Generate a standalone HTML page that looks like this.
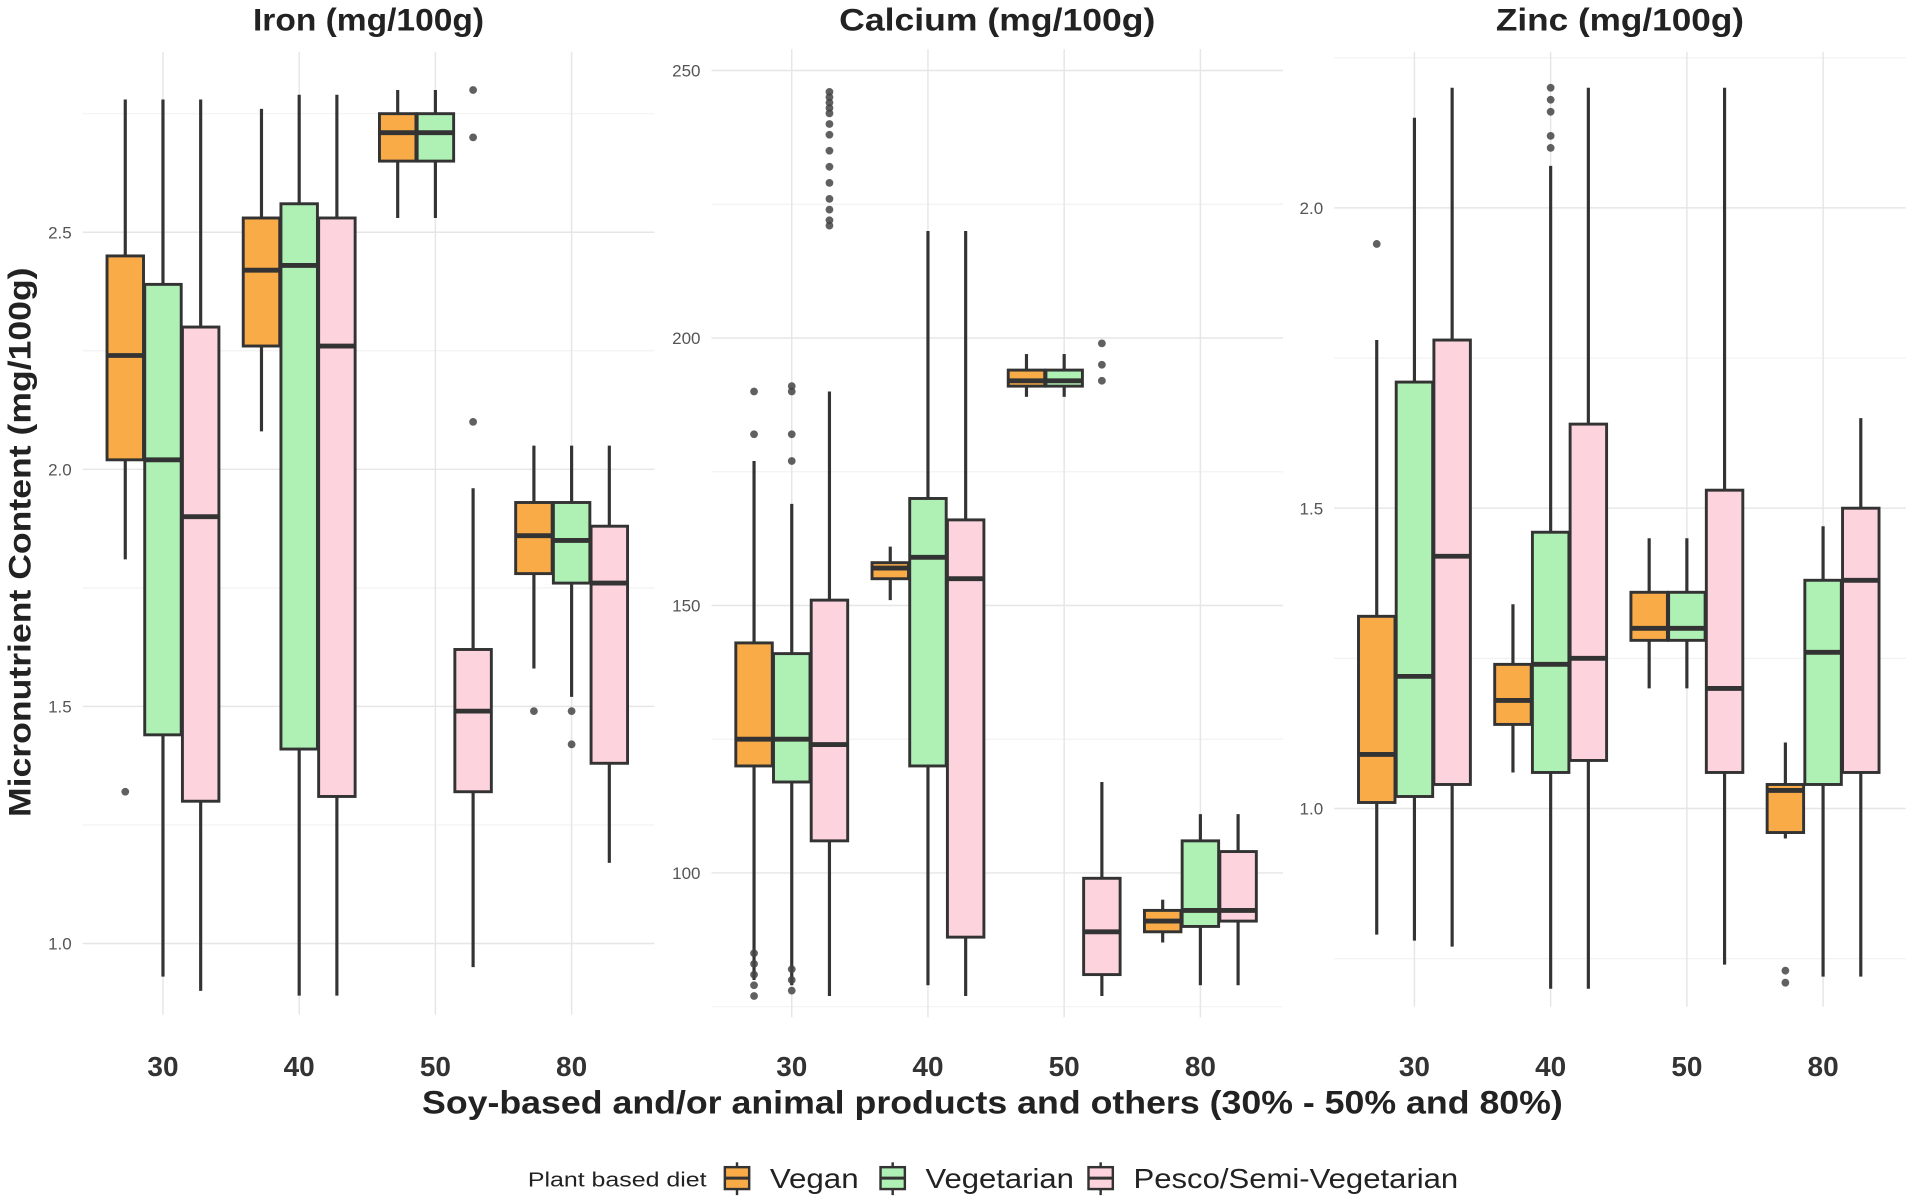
<!DOCTYPE html>
<html><head><meta charset="utf-8"><style>
body{margin:0;background:#fff}
svg{display:block;font-family:"Liberation Sans",sans-serif}
</style></head><body>
<svg id="c" width="1907" height="1200" viewBox="0 0 1568 987" preserveAspectRatio="none"></svg>
<script>
const categories=["30","40","50","80"];
const diets=["Vegan","Vegetarian","Pesco/Semi-Vegetarian"];
const dietColors=["#f9ab48","#aff0b5","#fdd3dd"];
// each: [lowWhisker,q1,median,q3,highWhisker]
const ironStats=[
 [[1.81,2.02,2.24,2.45,2.78],[0.93,1.44,2.02,2.39,2.78],[0.90,1.30,1.90,2.30,2.78]],
 [[2.08,2.26,2.42,2.53,2.76],[0.89,1.41,2.43,2.56,2.79],[0.89,1.31,2.26,2.53,2.79]],
 [[2.53,2.65,2.71,2.75,2.80],[2.53,2.65,2.71,2.75,2.80],[0.95,1.32,1.49,1.62,1.96]],
 [[1.58,1.78,1.86,1.93,2.05],[1.52,1.76,1.85,1.93,2.05],[1.17,1.38,1.76,1.88,2.05]]];
const ironOutliers=[[[1.32],[],[]],[[],[],[]],[[],[],[2.10,2.70,2.80]],[[1.49],[1.49,1.42],[]]];
const calciumStats=[
 [[80,120,125,143,177],[79,117,125,141,169],[77,106,124,151,190]],
 [[151,155,157,158,161],[79,120,159,170,220],[77,88,155,166,220]],
 [[189,191,192,194,197],[189,191,192,194,197],[77,81,89,99,117]],
 [[87,89,91,93,95],[79,90,93,106,111],[79,91,93,104,111]]];
const calciumOutliers=[
 [[190,182,85,83,81,79,77],[191,190,182,177,82,80,78],[246,245,244,243,242,240,238,235,232,229,226,224,222,221]],
 [[],[],[]],[[],[],[199,195,192]],[[],[],[]]];
const zincStats=[
 [[0.79,1.01,1.09,1.32,1.78],[0.78,1.02,1.22,1.71,2.15],[0.77,1.04,1.42,1.78,2.20]],
 [[1.06,1.14,1.18,1.24,1.34],[0.70,1.06,1.24,1.46,2.07],[0.70,1.08,1.25,1.64,2.20]],
 [[1.20,1.28,1.30,1.36,1.45],[1.20,1.28,1.30,1.36,1.45],[0.74,1.06,1.20,1.53,2.20]],
 [[0.95,0.96,1.03,1.04,1.11],[0.72,1.04,1.26,1.38,1.47],[0.72,1.06,1.38,1.50,1.65]]];
const zincOutliers=[[[1.94],[],[]],[[],[2.20,2.18,2.16,2.12,2.10],[]],[[],[],[]],[[0.73,0.71],[],[]]];
const ironTicks=[1.0,1.5,2.0,2.5];
const calciumTicks=[100,150,200,250];
const zincTicks=[1.0,1.5,2.0];

const NS="http://www.w3.org/2000/svg";
const svg=document.getElementById('c');
function mk(tag,attrs,parent){const e=document.createElementNS(NS,tag);for(const k in attrs)e.setAttribute(k,attrs[k]);(parent||svg).appendChild(e);return e;}

const panels=[
 {name:"iron",title:"Iron (mg/100g)",tw:190,x0:68,x1:538,cx:[134,246,358,470],v0:1.0,p0:776,scale:390,ymin:0.85,ymax:2.88,ticks:ironTicks,fmt:v=>v.toFixed(1),stats:ironStats,out:ironOutliers},
 {name:"calcium",title:"Calcium (mg/100g)",tw:260,x0:585,x1:1055,cx:[651,763,875,987],v0:100,p0:718,scale:4.4,ymin:73,ymax:254,ticks:calciumTicks,fmt:v=>String(v),stats:calciumStats,out:calciumOutliers},
 {name:"zinc",title:"Zinc (mg/100g)",tw:204,x0:1097,x1:1567,cx:[1163,1275,1387,1499],v0:1.0,p0:665,scale:494,ymin:0.67,ymax:2.26,ticks:zincTicks,fmt:v=>v.toFixed(1),stats:zincStats,out:zincOutliers}];

panels.forEach(p=>{
 const g=mk('g',{});
 
 
 const y=v=>p.p0-(v-p.v0)*p.scale;
 const top=y(p.ymax),bot=y(p.ymin);
 const step=p.ticks[1]-p.ticks[0];
 for(let i=-1;i<p.ticks.length;i++){
  const mv=p.ticks[0]+step*(i+0.5);
  if(mv>p.ymin&&mv<p.ymax){mk('line',{x1:p.x0,x2:p.x1,y1:y(mv),y2:y(mv),stroke:"#f2f2f2","stroke-width":1},g);}
 }
 p.ticks.forEach(t=>{
  const l=mk('line',{x1:p.x0,x2:p.x1,y1:y(t),y2:y(t),stroke:"#e6e6e6","stroke-width":1.2},g);
  
  
  const tx=mk('text',{x:p.x0-9,y:y(t)+5,"text-anchor":"end","font-size":14,fill:"#555"},g);
  tx.textContent=p.fmt(t);
  
  
 });
 p.cx.forEach((c,ci)=>{
  mk('line',{x1:c,x2:c,y1:top,y2:bot,stroke:"#e6e6e6","stroke-width":1.2},g);
  const tx=mk('text',{x:c,y:885,"text-anchor":"middle","font-size":23,"font-weight":"bold",fill:"#333"},g);
  tx.textContent=categories[ci];
  
  
 });
 const tt=mk('text',{x:(p.x0+p.x1)/2,y:25,"text-anchor":"middle","font-size":26,"font-weight":"bold",fill:"#222",textLength:p.tw,lengthAdjust:"spacingAndGlyphs"},g);
 tt.textContent=p.title;
 
 
 const bw=30,off=31;
 p.stats.forEach((grp,ci)=>{
  grp.forEach((s,di)=>{
   const cx=p.cx[ci]+(di-1)*off;
   const bg=mk('g',{},g);
   
   
   mk('line',{x1:cx,x2:cx,y1:y(s[0]),y2:y(s[4]),stroke:"#333","stroke-width":2.6},bg);
   mk('rect',{x:cx-bw/2,y:y(s[3]),width:bw,height:y(s[1])-y(s[3]),fill:dietColors[di],stroke:"#333","stroke-width":2.4},bg);
   mk('line',{x1:cx-bw/2,x2:cx+bw/2,y1:y(s[2]),y2:y(s[2]),stroke:"#333","stroke-width":4},bg);
   p.out[ci][di].forEach(o=>{
    const d=mk('circle',{cx:cx,cy:y(o),r:3.2,fill:"#444","fill-opacity":0.85},bg);
    
    
   });
  });
 });
});

const yt=mk('text',{x:0,y:0,transform:"translate(25,446) rotate(-90)","text-anchor":"middle","font-size":26,"font-weight":"bold",fill:"#222",textLength:452,lengthAdjust:"spacingAndGlyphs"});
yt.textContent="Micronutrient Content (mg/100g)";


const xt=mk('text',{x:816,y:916,"text-anchor":"middle","font-size":27,"font-weight":"bold",fill:"#222",textLength:938,lengthAdjust:"spacingAndGlyphs"});
xt.textContent="Soy-based and/or animal products and others (30% - 50% and 80%)";



const lg=mk('g',{});


const lt=mk('text',{x:434,y:976,"font-size":17,fill:"#222",textLength:147,lengthAdjust:"spacingAndGlyphs"},lg);
lt.textContent="Plant based diet";
const lx=[594,722,893];
const lw=[73,122,267];
diets.forEach((d,i)=>{
 const e=mk('g',{},lg);
 
 
 mk('line',{x1:lx[i]+12,x2:lx[i]+12,y1:956,y2:983,stroke:"#333","stroke-width":2},e);
 mk('rect',{x:lx[i]+2,y:960,width:20,height:18,fill:dietColors[i],stroke:"#333","stroke-width":2},e);
 mk('line',{x1:lx[i]+2,x2:lx[i]+22,y1:969,y2:969,stroke:"#333","stroke-width":2.5},e);
 const t=mk('text',{x:lx[i]+39,y:977,"font-size":23,fill:"#222",textLength:lw[i],lengthAdjust:"spacingAndGlyphs"},e);
 t.textContent=d;
});
</script>
</body></html>
